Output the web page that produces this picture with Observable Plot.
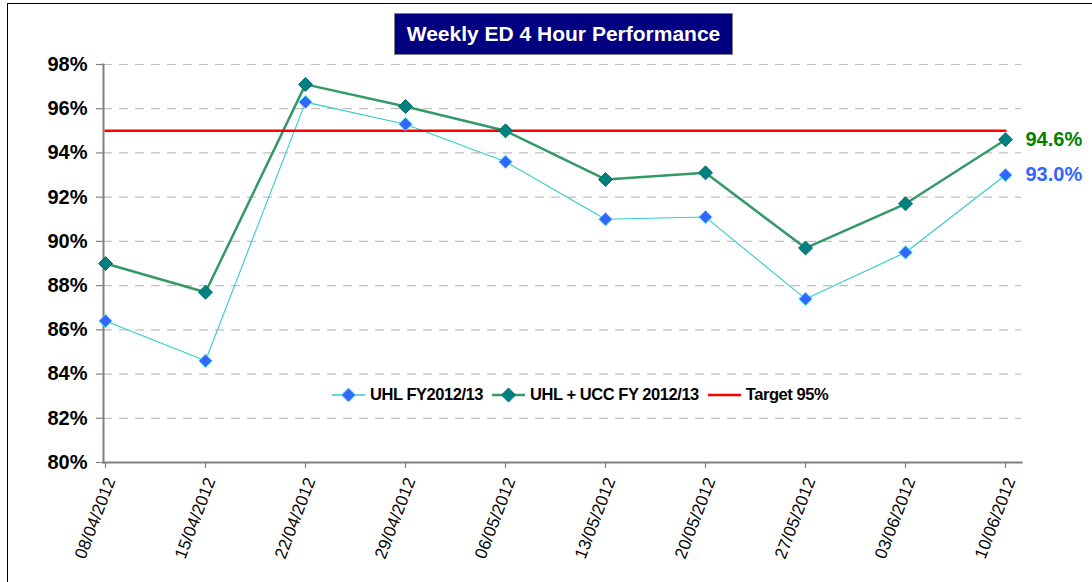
<!DOCTYPE html>
<html>
<head>
<meta charset="utf-8">
<script src="https://cdn.jsdelivr.net/npm/d3@7"></script>
<script src="https://cdn.jsdelivr.net/npm/@observablehq/plot@0.6"></script>
<style>
  html, body { margin: 0; padding: 0; background: #fff; }
  #wrap { position: relative; width: 1092px; height: 582px; overflow: hidden; font-family: "Liberation Sans", Arial, sans-serif; }
  #border { position: absolute; left: 7px; top: 3px; width: 1200px; height: 700px; border: 1.5px solid #000; box-sizing: border-box; }
  #title { position: absolute; left: 394px; top: 13px; width: 339px; height: 42px; background: #000080; border: 1px solid #808080; box-sizing: border-box;
           color: #fff; font-weight: bold; font-size: 21px; display: flex; align-items: center; justify-content: center; }
  #legend { position: absolute; left: 332px; top: 385px; display: flex; align-items: center; font-weight: bold; font-size: 16.5px; letter-spacing: -0.45px; color: #000; }
  #legend .item { display: flex; align-items: center; margin-right: 9px; }
  #legend svg { margin-right: 5px; }
  #chart { position: absolute; left: 0; top: 0; }
</style>
</head>
<body>
<div id="wrap">
  <div id="border"></div>
  <div id="chart"></div>
  <div id="title">Weekly ED 4 Hour Performance</div>
  <div id="legend"></div>
</div>
<script>
const weeks = ["08/04/2012","15/04/2012","22/04/2012","29/04/2012","06/05/2012","13/05/2012","20/05/2012","27/05/2012","03/06/2012","10/06/2012"];
const uhl = [86.4, 84.6, 96.3, 95.3, 93.6, 91.0, 91.1, 87.4, 89.5, 93.0];
const uhlUcc = [89.0, 87.7, 97.1, 96.1, 95.0, 92.8, 93.1, 89.7, 91.7, 94.6];
const targetValue = 95;
const yTicks = [80, 82, 84, 86, 88, 90, 92, 94, 96, 98];
const seriesNames = ["UHL FY2012/13", "UHL + UCC FY 2012/13", "Target 95%"];
const endLabels = ["93.0%", "94.6%"];

const colors = {
  uhlLine: "#33cccc", uhlMarker: "#3366ff", uhlLabel: "#3366ff",
  uccLine: "#339966", uccMarker: "#008080", uccLabel: "#008000",
  target: "#ff0000"
};

const rowsUhl = weeks.map((w, i) => ({week: w, value: uhl[i]}));
const rowsUcc = weeks.map((w, i) => ({week: w, value: uhlUcc[i]}));
const rowsTarget = weeks.map(w => ({week: w, value: targetValue}));

const chart = Plot.plot({
  width: 1092,
  height: 582,
  marginLeft: 103,
  marginRight: 71,
  marginTop: 64,
  marginBottom: 120,
  style: {fontFamily: "'Liberation Sans', Arial, sans-serif", background: "transparent", overflow: "visible"},
  x: {type: "point", domain: weeks, range: [103, 1007], padding: 0},
  y: {domain: [80, 98]},
  marks: [
    Plot.gridY(yTicks, {stroke: "#c0c0c0", strokeOpacity: 1, strokeWidth: 1.2, strokeDasharray: "9,7"}),
    Plot.axisY({ticks: yTicks, tickFormat: d => d + "%", tickSize: 7, tickPadding: 9, stroke: "#808080", strokeWidth: 1.2,
                fontSize: 20, fontWeight: "bold", fill: "#000", label: null}),
    Plot.axisX({tickSize: 6, text: null, stroke: "#808080", strokeWidth: 1.2, label: null}),
    Plot.axisX({tickSize: 0, tickRotate: -69, fontSize: 17, tickPadding: 16, dx: 5, fill: "#000", label: null}),
    Plot.frame({anchor: "left", stroke: "#808080", strokeWidth: 2}),
    Plot.frame({anchor: "bottom", stroke: "#808080", strokeWidth: 2}),
    Plot.line(rowsUhl, {x: "week", y: "value", stroke: colors.uhlLine, strokeWidth: 1.1}),
    Plot.line(rowsUcc, {x: "week", y: "value", stroke: colors.uccLine, strokeWidth: 2.5}),
    Plot.line(rowsTarget, {x: "week", y: "value", stroke: colors.target, strokeWidth: 2.5}),
    Plot.dot(rowsUhl, {x: "week", y: "value", symbol: "diamond2", r: 6, fill: colors.uhlMarker, stroke: "#55ddee", strokeWidth: 1}),
    Plot.dot(rowsUcc, {x: "week", y: "value", symbol: "diamond2", r: 6.3, fill: colors.uccMarker, stroke: "#0a6e6a", strokeWidth: 1}),
    Plot.text(rowsUcc.slice(-1), {x: "week", y: "value", text: () => endLabels[1], dx: 20, textAnchor: "start",
                fill: colors.uccLabel, fontSize: 20, fontWeight: "bold"}),
    Plot.text(rowsUhl.slice(-1), {x: "week", y: "value", text: () => endLabels[0], dx: 20, textAnchor: "start",
                fill: colors.uhlLabel, fontSize: 20, fontWeight: "bold"})
  ]
});
document.getElementById("chart").appendChild(chart);

// Legend
const legend = document.getElementById("legend");
const legendItems = [
  {name: seriesNames[0], line: colors.uhlLine, lw: 1.5, marker: colors.uhlMarker, mstroke: "#55ddee"},
  {name: seriesNames[1], line: colors.uccLine, lw: 2.5, marker: colors.uccMarker, mstroke: "#0a6e6a"},
  {name: seriesNames[2], line: colors.target, lw: 2.5, marker: null}
];
for (const it of legendItems) {
  const item = document.createElement("div");
  item.className = "item";
  const svg = d3.create("svg").attr("width", 33).attr("height", 16);
  svg.append("line").attr("x1", 0).attr("x2", 33).attr("y1", 8).attr("y2", 8).attr("stroke", it.line).attr("stroke-width", it.lw);
  if (it.marker) {
    svg.append("path").attr("d", "M16.5,1L23.5,8L16.5,15L9.5,8Z").attr("fill", it.marker).attr("stroke", it.mstroke).attr("stroke-width", 1);
  }
  item.appendChild(svg.node());
  const span = document.createElement("span");
  span.textContent = it.name;
  item.appendChild(span);
  legend.appendChild(item);
}
</script>
</body>
</html>
